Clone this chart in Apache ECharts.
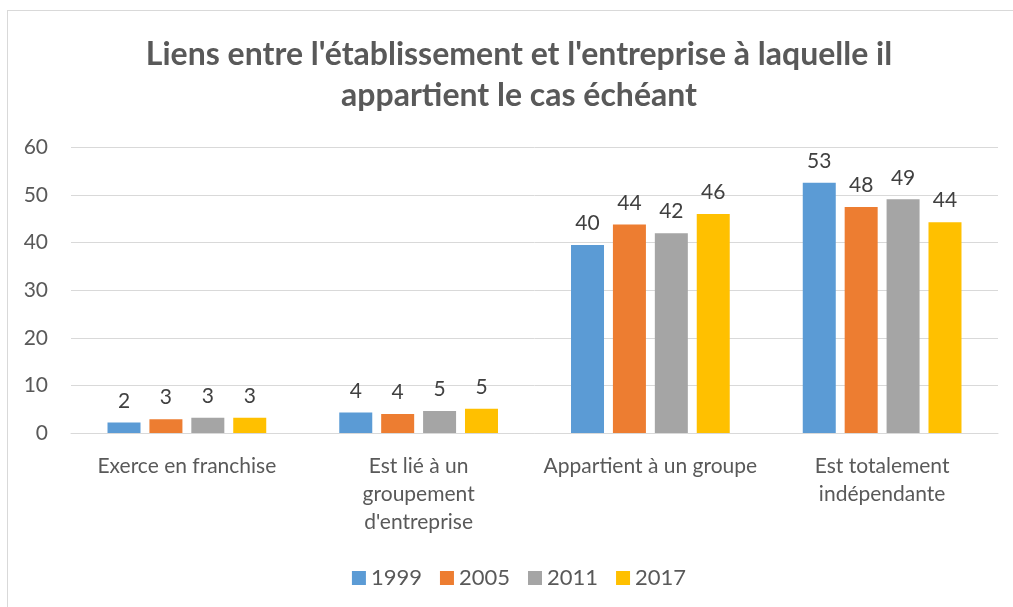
<!DOCTYPE html>
<html>
<head>
<meta charset="utf-8">
<script src="https://cdn.jsdelivr.net/npm/echarts@6/dist/echarts.min.js"></script>
<style>
html,body{margin:0;padding:0;background:#fff;overflow:hidden;width:1013px;height:607px;}
#frame{position:absolute;left:7px;top:10px;width:1020px;height:620px;border-top:1px solid #d9d9d9;border-left:1px solid #d9d9d9;}
#chart{position:absolute;left:0;top:0;width:1038px;height:607px;}
</style>
</head>
<body>
<div id="frame"></div>
<div id="chart"></div>
<script>
const categories = ["Exerce en franchise", "Est lié à un\ngroupement\nd'entreprise", "Appartient à un groupe", "Est totalement\nindépendante"];
const seriesNames = ["1999", "2005", "2011", "2017"];
const values1999 = [2.2, 4.3, 39.5, 52.6];
const values2005 = [2.9, 4.0, 43.8, 47.5];
const values2011 = [3.2, 4.6, 42.0, 49.1];
const values2017 = [3.2, 5.1, 46.0, 44.3];
const colors = ["#5b9bd5", "#ed7d31", "#a5a5a5", "#ffc000"];
const yTicks = [0, 10, 20, 30, 40, 50, 60];

const allValues = [values1999, values2005, values2011, values2017];
const font = "Lato, 'Open Sans', sans-serif";
const chart = echarts.init(document.getElementById('chart'));
chart.setOption({
  animation: false,
  textStyle: { fontFamily: font },
  title: {
    text: "Liens entre l'établissement et l'entreprise à laquelle il\nappartient le cas échéant",
    left: 'center',
    top: 29,
    textStyle: { fontFamily: font, fontSize: 32, fontWeight: 'bold', color: '#595959', lineHeight: 41 }
  },
  legend: {
    top: 562,
    left: 'center',
    itemWidth: 14,
    itemHeight: 14,
    itemGap: 18,
    icon: 'rect',
    textStyle: { fontFamily: font, fontSize: 22, color: '#595959' },
    data: seriesNames
  },
  grid: { left: 71, right: 40, top: 147.5, bottom: 174 },
  xAxis: {
    type: 'category',
    data: categories,
    axisLine: { lineStyle: { color: '#d9d9d9', width: 1 } },
    axisTick: { show: false },
    axisLabel: { fontFamily: font, fontSize: 21, color: '#595959', margin: 19, lineHeight: 28, interval: 0 }
  },
  yAxis: {
    type: 'value',
    min: yTicks[0],
    max: yTicks[yTicks.length - 1],
    interval: 10,
    axisLine: { show: false },
    axisTick: { show: false },
    splitLine: { lineStyle: { color: '#d9d9d9', width: 1 } },
    axisLabel: { fontFamily: font, fontSize: 21, color: '#595959', margin: 23 }
  },
  series: seriesNames.map((name, i) => ({
    name: name,
    type: 'bar',
    data: allValues[i],
    barWidth: 33,
    barGap: '27%',
    itemStyle: { color: colors[i] },
    label: {
      show: true,
      position: 'top',
      distance: 11,
      fontFamily: font,
      fontSize: 21,
      color: '#404040',
      formatter: p => Math.round(p.value)
    }
  }))
});
</script>
</body>
</html>
